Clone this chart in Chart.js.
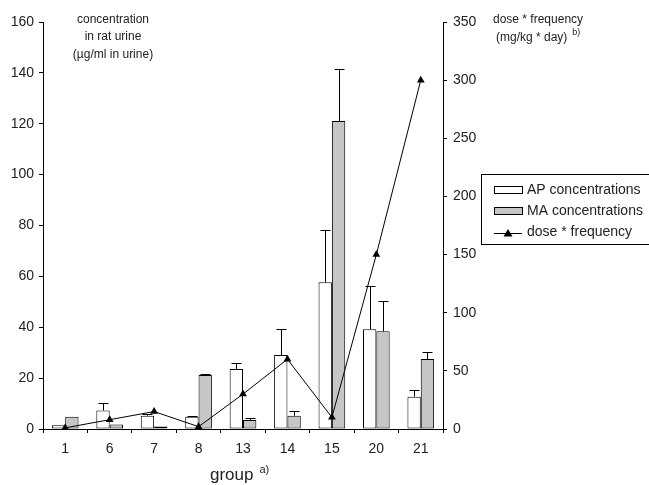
<!DOCTYPE html>
<html>
<head>
<meta charset="utf-8">
<script src="https://cdn.jsdelivr.net/npm/chart.js@4.4.1/dist/chart.umd.min.js"></script>
<style>
    body { margin: 0; background: #fff; }
    canvas { display: block; }
</style>
</head>
<body>
<canvas id="chart" width="649" height="485"></canvas>
<script>
// Data
const groups = ['1', '6', '7', '8', '13', '14', '15', '20', '21'];
const apValues = [1.5, 7.3, 5.2, 4.8, 23.6, 29.1, 57.7, 39.2, 12.7];
const apErrors = [0, 3.0, 0.8, 0.3, 2.2, 10.1, 20.4, 17.1, 2.6];
const maValues = [4.8, 1.8, 1.0, 21.2, 3.5, 5.2, 121.1, 38.4, 27.5];
const maErrors = [0, 0, 0, 0.3, 0.7, 1.9, 20.4, 12.0, 2.8];
const doseFrequency = [1, 8, 15, 2, 30, 60, 10, 150, 300];

const FONT = '"Liberation Sans", Arial, sans-serif';

// Upward error bars with a cap
const errorBarPlugin = {
    id: 'errorBars',
    afterDatasetsDraw(chart) {
        const ctx = chart.ctx;
        const yScale = chart.scales.y;
        const sets = [[0, apValues, apErrors], [1, maValues, maErrors]];
        ctx.save();
        ctx.strokeStyle = '#000';
        ctx.lineWidth = 1;
        sets.forEach(([idx, vals, errs]) => {
            const meta = chart.getDatasetMeta(idx);
            meta.data.forEach((bar, i) => {
                if (!errs[i]) return;
                const x = Math.round(bar.x) + 0.5;
                const yTop = yScale.getPixelForValue(vals[i]);
                const yErr = Math.round(yScale.getPixelForValue(vals[i] + errs[i])) + 0.5;
                ctx.beginPath();
                ctx.moveTo(x, yTop);
                ctx.lineTo(x, yErr);
                ctx.moveTo(x - 5, yErr);
                ctx.lineTo(x + 5, yErr);
                ctx.stroke();
            });
        });
        ctx.restore();
    }
};

// Axis captions and the boxed legend
const textPlugin = {
    id: 'captions',
    afterDraw(chart) {
        const ctx = chart.ctx;
        ctx.save();
        ctx.fillStyle = '#222';
        ctx.textBaseline = 'middle';

        // left axis caption
        ctx.font = '12px ' + FONT;
        ctx.textAlign = 'center';
        ctx.fillText('concentration', 113, 20);
        ctx.fillText('in rat urine', 113, 37);
        ctx.fillText('(\u00b5g/ml in urine)', 113, 55);

        // right axis caption
        ctx.textAlign = 'left';
        ctx.fillText('dose * frequency', 493, 20);
        ctx.fillText('(mg/kg * day)', 496, 38);
        const w = ctx.measureText('(mg/kg * day)').width;
        ctx.font = '9px ' + FONT;
        ctx.fillText('b)', 496 + w + 5, 33);

        // x axis title
        ctx.textBaseline = 'alphabetic';
        ctx.font = '17px ' + FONT;
        ctx.fillText('group', 210, 480);
        const gw = ctx.measureText('group').width;
        ctx.font = '11px ' + FONT;
        ctx.fillText('a)', 210 + gw + 6, 473);

        // legend
        ctx.strokeStyle = '#000';
        ctx.lineWidth = 1;
        ctx.strokeRect(481.5, 174.5, 170, 70);

        ctx.fillStyle = '#fff';
        ctx.fillRect(494.5, 186.5, 28, 7);
        ctx.strokeRect(494.5, 186.5, 28, 7);
        ctx.fillStyle = '#c6c6c6';
        ctx.fillRect(494.5, 207.5, 28, 7);
        ctx.strokeRect(494.5, 207.5, 28, 7);

        ctx.beginPath();
        ctx.moveTo(494, 233.5);
        ctx.lineTo(522, 233.5);
        ctx.stroke();
        ctx.fillStyle = '#000';
        ctx.beginPath();
        ctx.moveTo(508, 229);
        ctx.lineTo(512.5, 236.5);
        ctx.lineTo(503.5, 236.5);
        ctx.closePath();
        ctx.fill();

        ctx.fillStyle = '#222';
        ctx.font = '14px ' + FONT;
        ctx.textBaseline = 'middle';
        ctx.fillText('AP concentrations', 527, 190);
        ctx.fillText('MA concentrations', 527, 211);
        ctx.fillText('dose * frequency', 527, 232);
        ctx.restore();
    }
};

const ctx = document.getElementById('chart').getContext('2d');

new Chart(ctx, {
    data: {
        labels: groups,
        datasets: [
            {
                type: 'bar',
                label: 'AP concentrations',
                data: apValues,
                backgroundColor: '#ffffff',
                borderColor: '#000',
                borderWidth: 1,
                borderSkipped: false,
                categoryPercentage: 0.6,
                barPercentage: 1.0,
                yAxisID: 'y',
                order: 2
            },
            {
                type: 'bar',
                label: 'MA concentrations',
                data: maValues,
                backgroundColor: '#c6c6c6',
                borderColor: '#000',
                borderWidth: 1,
                borderSkipped: false,
                categoryPercentage: 0.6,
                barPercentage: 1.0,
                yAxisID: 'y',
                order: 2
            },
            {
                type: 'line',
                label: 'dose * frequency',
                data: doseFrequency,
                borderColor: '#000',
                borderWidth: 1,
                backgroundColor: '#000',
                pointStyle: 'triangle',
                pointRadius: 4.5,
                pointBackgroundColor: '#000',
                pointBorderWidth: 0,
                tension: 0,
                yAxisID: 'y1',
                order: 0
            }
        ]
    },
    options: {
        responsive: false,
        devicePixelRatio: 1,
        animation: false,
        layout: { padding: { top: 22, right: 0, left: 0, bottom: 0 } },
        plugins: {
            legend: { display: false },
            tooltip: { enabled: false }
        },
        scales: {
            x: {
                offset: true,
                grid: {
                    offset: true,
                    drawOnChartArea: false,
                    drawTicks: true,
                    tickLength: 4,
                    color: '#000'
                },
                border: { display: true, color: '#000', width: 1 },
                ticks: {
                    color: '#222',
                    font: { family: FONT, size: 14 },
                    padding: 8,
                    maxRotation: 0
                },
                afterFit(scale) { scale.height = 56; }
            },
            y: {
                position: 'left',
                min: 0,
                max: 160,
                grid: {
                    drawOnChartArea: false,
                    drawTicks: true,
                    tickLength: 4,
                    color: '#000'
                },
                border: { display: true, color: '#000', width: 1 },
                ticks: {
                    stepSize: 20,
                    color: '#222',
                    font: { family: FONT, size: 14 },
                    padding: 5
                },
                afterFit(scale) { scale.width = 43; }
            },
            y1: {
                position: 'right',
                min: 0,
                max: 350,
                grid: {
                    drawOnChartArea: false,
                    drawTicks: true,
                    tickLength: 4,
                    color: '#000'
                },
                border: { display: true, color: '#000', width: 1 },
                ticks: {
                    stepSize: 50,
                    color: '#222',
                    font: { family: FONT, size: 14 },
                    padding: 6
                },
                afterFit(scale) { scale.width = 206; }
            }
        }
    },
    plugins: [errorBarPlugin, textPlugin]
});
</script>
</body>
</html>
